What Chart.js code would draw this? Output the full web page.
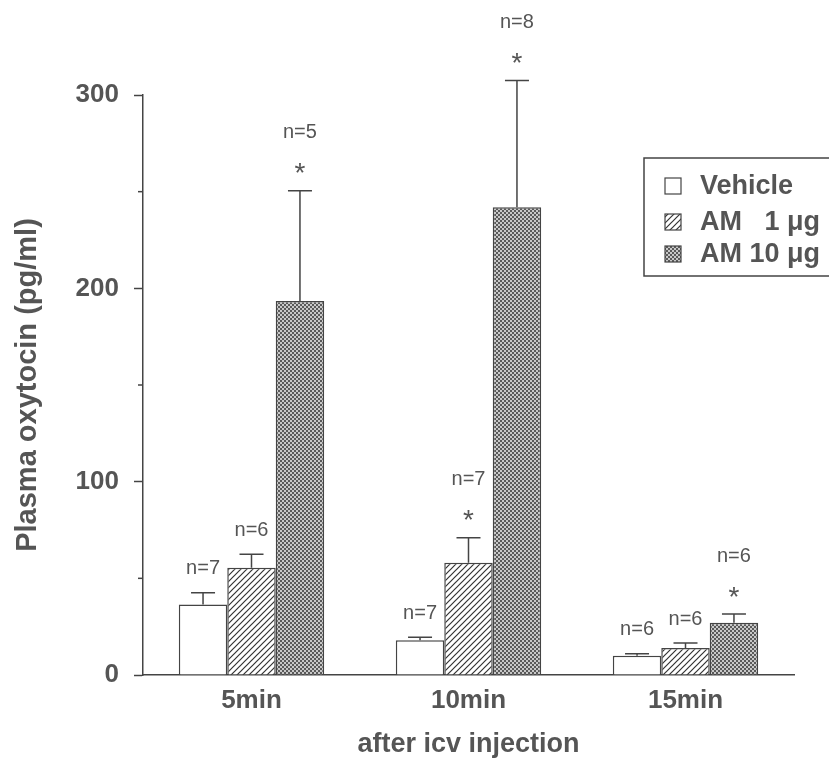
<!DOCTYPE html>
<html>
<head>
<meta charset="utf-8">
<script src="https://cdn.jsdelivr.net/npm/chart.js@4/dist/chart.umd.min.js"></script>
<style>
  body { margin: 0; background: #fff; }
  canvas { display: block; }
</style>
</head>
<body>
<canvas id="chart" width="829" height="763"></canvas>
<script>
const categories = ['5min', '10min', '15min'];
const seriesNames = ['Vehicle', 'AM   1 \u03bcg', 'AM 10 \u03bcg'];

const vehicleMean = [36.5, 18, 10];
const vehicleSem = [6, 1.5, 1];
const am1Mean = [55.5, 58, 14];
const am1Sem = [7, 13, 2.5];
const am10Mean = [193.5, 242, 27];
const am10Sem = [57, 65.5, 4.5];

const vehicleN = [7, 7, 6];
const am1N = [6, 7, 6];
const am10N = [5, 8, 6];

const vehicleStar = [false, false, false];
const am1Star = [false, true, false];
const am10Star = [true, true, true];

const yTicks = [0, 100, 200, 300];
const yMinorTicks = [50, 150, 250];

const ink = '#444';
const textColor = '#555';
const fontFamily = '"Liberation Sans", Arial, sans-serif';

function makeHatch() {
  const c = document.createElement('canvas');
  c.width = 6; c.height = 6;
  const g = c.getContext('2d');
  g.fillStyle = '#fff';
  g.fillRect(0, 0, 6, 6);
  g.strokeStyle = '#333';
  g.lineWidth = 1.2;
  g.beginPath();
  g.moveTo(-1, 7); g.lineTo(7, -1);
  g.moveTo(-4, 4); g.lineTo(4, -4);
  g.moveTo(2, 10); g.lineTo(10, 2);
  g.stroke();
  return g.createPattern(c, 'repeat');
}

function makeDots() {
  const c = document.createElement('canvas');
  c.width = 4; c.height = 4;
  const g = c.getContext('2d');
  g.fillStyle = '#c8c8c8';
  g.fillRect(0, 0, 4, 4);
  g.fillStyle = '#5a5a5a';
  g.fillRect(0, 0, 2, 2);
  g.fillRect(2, 2, 2, 2);
  return g.createPattern(c, 'repeat');
}

const hatch = makeHatch();
const dots = makeDots();
const fills = ['#fff', hatch, dots];

const sems = [vehicleSem, am1Sem, am10Sem];
const ns = [vehicleN, am1N, am10N];
const stars = [vehicleStar, am1Star, am10Star];

const errorBars = {
  id: 'errorBars',
  afterDraw(chart) {
    const ctx = chart.ctx;
    const y = chart.scales.y;
    ctx.save();
    // minor ticks on the y axis
    ctx.strokeStyle = ink;
    ctx.lineWidth = 1.5;
    yMinorTicks.forEach(v => {
      const py = y.getPixelForValue(v);
      ctx.beginPath();
      ctx.moveTo(y.right - 5, py);
      ctx.lineTo(y.right, py);
      ctx.stroke();
    });

    chart.data.datasets.forEach((ds, i) => {
      const meta = chart.getDatasetMeta(i);
      meta.data.forEach((bar, j) => {
        const top = y.getPixelForValue(ds.data[j] + sems[i][j]);
        ctx.strokeStyle = ink;
        ctx.lineWidth = 1.5;
        ctx.beginPath();
        ctx.moveTo(bar.x, bar.y);
        ctx.lineTo(bar.x, top);
        ctx.moveTo(bar.x - 12, top);
        ctx.lineTo(bar.x + 12, top);
        ctx.stroke();

        ctx.fillStyle = textColor;
        ctx.textAlign = 'center';
        ctx.textBaseline = 'middle';
        if (stars[i][j]) {
          ctx.font = '28px ' + fontFamily;
          ctx.fillText('*', bar.x, top - 16);
          ctx.font = '20px ' + fontFamily;
          ctx.fillText('n=' + ns[i][j], bar.x, top - 58);
        } else {
          ctx.font = '20px ' + fontFamily;
          ctx.fillText('n=' + ns[i][j], bar.x, top - 24);
        }
      });
    });

    // legend box
    ctx.strokeStyle = ink;
    ctx.lineWidth = 1.5;
    ctx.beginPath();
    ctx.moveTo(835, 158);
    ctx.lineTo(644, 158);
    ctx.lineTo(644, 276);
    ctx.lineTo(835, 276);
    ctx.stroke();
    const rowY = [186, 222, 254];
    seriesNames.forEach((name, i) => {
      ctx.fillStyle = fills[i];
      ctx.fillRect(665, rowY[i] - 8, 16, 16);
      ctx.strokeStyle = ink;
      ctx.lineWidth = 1.2;
      ctx.strokeRect(665, rowY[i] - 8, 16, 16);
      ctx.fillStyle = textColor;
      ctx.textAlign = 'left';
      ctx.textBaseline = 'middle';
      ctx.font = 'bold 27px ' + fontFamily;
      ctx.fillText(name, 700, rowY[i] + 1);
    });
    ctx.restore();
  }
};

new Chart(document.getElementById('chart'), {
  type: 'bar',
  data: {
    labels: categories,
    datasets: [
      { label: seriesNames[0], data: vehicleMean, backgroundColor: fills[0] },
      { label: seriesNames[1], data: am1Mean, backgroundColor: fills[1] },
      { label: seriesNames[2], data: am10Mean, backgroundColor: fills[2] }
    ]
  },
  options: {
    responsive: false,
    animation: false,
    events: [],
    layout: { padding: { top: 95, right: 35, left: 0, bottom: 0 } },
    datasets: {
      bar: {
        borderColor: ink,
        borderWidth: 1.5,
        categoryPercentage: 0.67,
        barPercentage: 1.0
      }
    },
    plugins: {
      legend: { display: false },
      tooltip: { enabled: false }
    },
    scales: {
      x: {
        afterFit: s => { s.height = 88; },
        grid: { display: false, drawTicks: false },
        border: { display: true, color: ink, width: 1.5 },
        ticks: {
          color: textColor,
          padding: 10,
          font: { family: fontFamily, size: 26, weight: 'bold' }
        },
        title: {
          display: true,
          text: 'after icv injection',
          color: textColor,
          padding: { top: 4, bottom: 2 },
          font: { family: fontFamily, size: 27, weight: 'bold' }
        }
      },
      y: {
        min: 0,
        max: 300,
        afterFit: s => { s.width = 143; },
        afterBuildTicks: s => { s.ticks = yTicks.map(v => ({ value: v })); },
        grid: { drawOnChartArea: false, tickLength: 9, tickColor: ink, tickWidth: 1.5 },
        border: { display: true, color: ink, width: 1.5 },
        ticks: {
          color: textColor,
          padding: 15,
          font: { family: fontFamily, size: 26, weight: 'bold' }
        },
        title: {
          display: true,
          text: 'Plasma oxytocin (pg/ml)',
          color: textColor,
          padding: { top: 11, bottom: 0 },
          font: { family: fontFamily, size: 29, weight: 'bold' }
        }
      }
    }
  },
  plugins: [errorBars]
});
</script>
</body>
</html>
